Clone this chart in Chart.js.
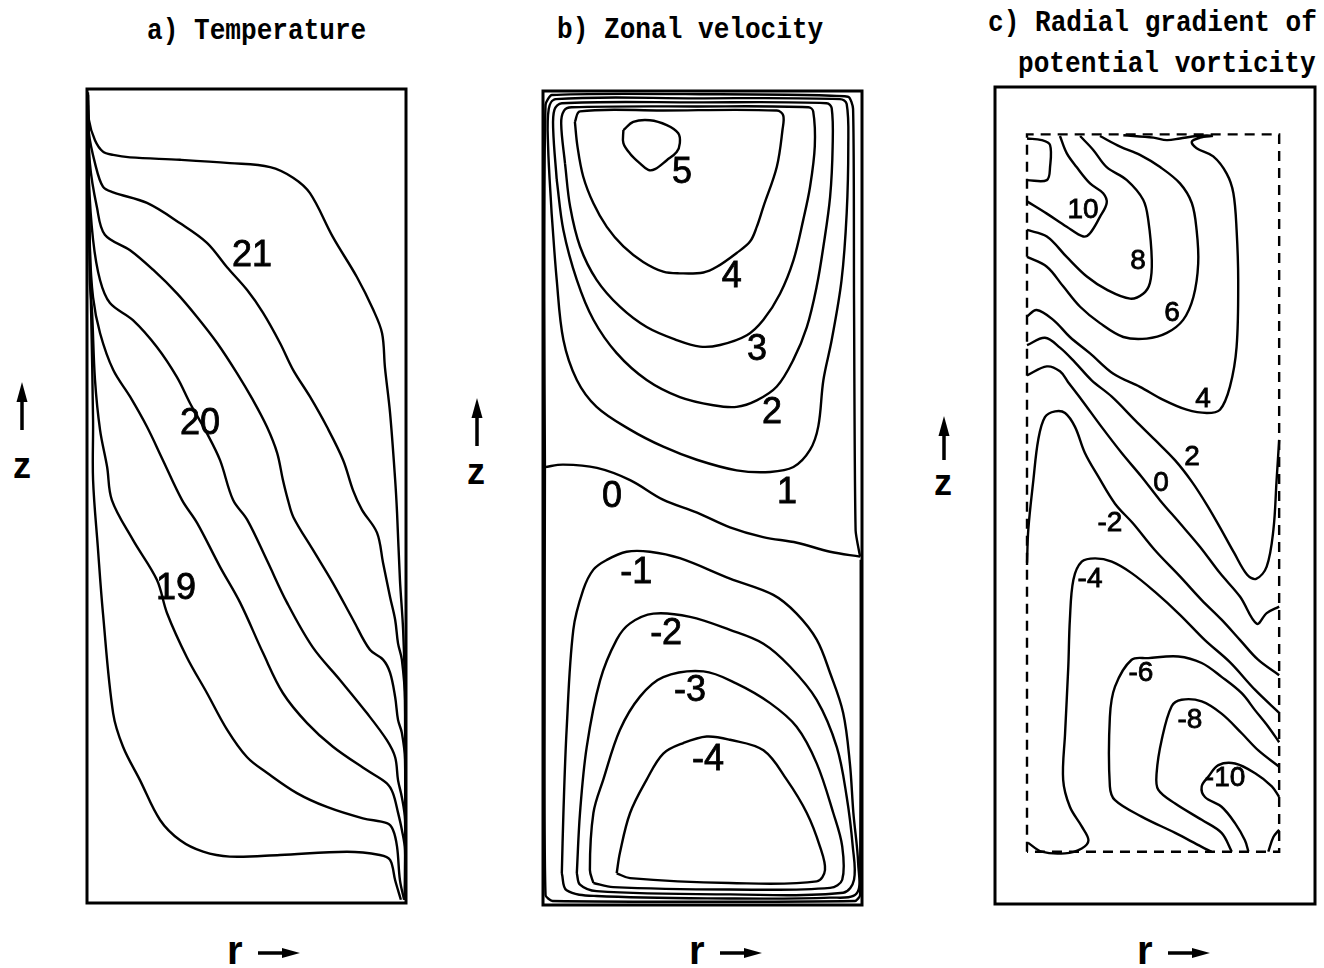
<!DOCTYPE html>
<html>
<head>
<meta charset="utf-8">
<script src="https://cdn.jsdelivr.net/npm/chart.js@4.4.0/dist/chart.umd.min.js"></script>
<style>
  html, body { margin: 0; padding: 0; background: #fff; }
  body { width: 1324px; height: 968px; position: relative; overflow: hidden; }
  canvas { position: absolute; }
  .ttl { position: absolute; font: bold 30px "Liberation Mono", "DejaVu Sans Mono", monospace; line-height: 30px; white-space: pre; transform: scaleX(0.87); transform-origin: 0 0; color: #000; }
  .axl { position: absolute; font: bold 36px "Liberation Sans", Arial, sans-serif; line-height: 36px; color: #000; }
  svg { position: absolute; overflow: visible; }
</style>
</head>
<body>
<div class="ttl" style="left:147px;top:16px">a) Temperature</div>
<div class="ttl" style="left:557px;top:15px">b) Zonal velocity</div>
<div class="ttl" style="left:988px;top:8px">c) Radial gradient of</div>
<div class="ttl" style="left:1018px;top:49px">potential vorticity</div>

<canvas id="tempChart" width="339" height="834" style="left:77px;top:79px"></canvas>
<canvas id="zonalChart" width="339" height="834" style="left:533px;top:81px"></canvas>
<canvas id="pvChart" width="340" height="837" style="left:985px;top:77px"></canvas>

<!-- axis captions: z up, r to the right -->
<svg style="left:14px;top:382px" width="16" height="50"><path d="M8 48 V16" stroke="#000" stroke-width="3.5"/><path d="M8 0 L2.5 20 L13.5 20 Z"/></svg>
<div class="axl" style="left:13px;top:448px">z</div>
<svg style="left:469px;top:398px" width="16" height="50"><path d="M8 48 V16" stroke="#000" stroke-width="3.5"/><path d="M8 0 L2.5 20 L13.5 20 Z"/></svg>
<div class="axl" style="left:467px;top:454px">z</div>
<svg style="left:936px;top:416px" width="16" height="46"><path d="M8 44 V16" stroke="#000" stroke-width="3.5"/><path d="M8 0 L2.5 20 L13.5 20 Z"/></svg>
<div class="axl" style="left:934px;top:465px">z</div>

<div class="axl" style="left:227px;top:932px;font-size:40px">r</div>
<svg style="left:256px;top:945px" width="46" height="16"><path d="M2 8 H30" stroke="#000" stroke-width="3.5"/><path d="M44 8 L26 3 L26 13 Z"/></svg>
<div class="axl" style="left:689px;top:932px;font-size:40px">r</div>
<svg style="left:718px;top:945px" width="46" height="16"><path d="M2 8 H30" stroke="#000" stroke-width="3.5"/><path d="M44 8 L26 3 L26 13 Z"/></svg>
<div class="axl" style="left:1137px;top:932px;font-size:40px">r</div>
<svg style="left:1166px;top:945px" width="46" height="16"><path d="M2 8 H30" stroke="#000" stroke-width="3.5"/><path d="M44 8 L26 3 L26 13 Z"/></svg>

<script>
// contour lines are [r, z] pairs, both scaled 0..1 over the tank cross-section

// a) temperature isotherms, top to bottom
var temp1 = [[0.003,0.996],[0.006,0.962],[0.025,0.937],[0.050,0.923],[0.082,0.919],[0.135,0.916],[0.292,0.913],[0.448,0.909],[0.574,0.904],[0.646,0.891],[0.699,0.872],[0.771,0.818],[0.846,0.769],[0.897,0.729],[0.925,0.700],[0.934,0.658],[0.950,0.602],[0.966,0.520],[0.972,0.479],[0.981,0.397],[0.991,0.335],[0.997,0.249],[0.997,0.004]];
var temp2 = [[0.003,0.993],[0.006,0.946],[0.025,0.909],[0.050,0.880],[0.082,0.873],[0.188,0.860],[0.292,0.835],[0.376,0.811],[0.439,0.781],[0.502,0.753],[0.552,0.725],[0.605,0.688],[0.646,0.655],[0.699,0.622],[0.752,0.585],[0.803,0.544],[0.834,0.507],[0.862,0.483],[0.909,0.455],[0.928,0.418],[0.950,0.376],[0.966,0.348],[0.975,0.319],[0.987,0.299],[0.997,0.249],[0.997,0.004]];
var temp3 = [[0.003,0.986],[0.009,0.909],[0.031,0.855],[0.056,0.821],[0.135,0.802],[0.207,0.778],[0.282,0.749],[0.345,0.720],[0.408,0.688],[0.470,0.651],[0.520,0.618],[0.564,0.585],[0.596,0.553],[0.614,0.520],[0.630,0.495],[0.647,0.474],[0.708,0.434],[0.771,0.393],[0.834,0.348],[0.887,0.311],[0.928,0.299],[0.950,0.283],[0.966,0.253],[0.975,0.225],[0.987,0.209],[0.997,0.176],[0.997,0.004]];
var temp4 = [[0.003,0.980],[0.006,0.888],[0.019,0.815],[0.041,0.765],[0.072,0.737],[0.144,0.716],[0.219,0.683],[0.282,0.646],[0.323,0.614],[0.376,0.577],[0.417,0.544],[0.458,0.495],[0.502,0.471],[0.564,0.421],[0.627,0.369],[0.708,0.314],[0.793,0.274],[0.878,0.233],[0.940,0.200],[0.966,0.179],[0.975,0.151],[0.987,0.130],[0.997,0.102],[0.997,0.004]];
var temp5 = [[0.003,0.974],[0.009,0.806],[0.019,0.744],[0.041,0.700],[0.082,0.655],[0.135,0.622],[0.188,0.585],[0.238,0.544],[0.298,0.495],[0.345,0.467],[0.417,0.413],[0.480,0.369],[0.552,0.307],[0.614,0.258],[0.690,0.221],[0.771,0.192],[0.878,0.163],[0.940,0.147],[0.959,0.135],[0.975,0.111],[0.987,0.090],[0.997,0.065],[0.997,0.004]];
var temp6 = [[0.003,0.968],[0.009,0.765],[0.016,0.725],[0.025,0.643],[0.041,0.581],[0.063,0.536],[0.078,0.495],[0.144,0.446],[0.219,0.397],[0.251,0.356],[0.313,0.302],[0.376,0.258],[0.439,0.213],[0.502,0.179],[0.564,0.160],[0.658,0.135],[0.752,0.118],[0.865,0.104],[0.940,0.098],[0.959,0.090],[0.972,0.069],[0.981,0.028],[0.994,0.004]];
var temp7 = [[0.003,0.993],[0.006,0.864],[0.013,0.725],[0.019,0.593],[0.019,0.520],[0.034,0.437],[0.050,0.356],[0.082,0.233],[0.113,0.192],[0.166,0.151],[0.229,0.102],[0.292,0.077],[0.364,0.063],[0.448,0.057],[0.605,0.059],[0.815,0.063],[0.918,0.059],[0.950,0.053],[0.966,0.028],[0.984,0.004]];
var tempLabelText = ["21", "20", "19"];
var tempLabelR = [0.517, 0.354, 0.279];
var tempLabelZ = [0.795, 0.588, 0.386];

// b) zonal velocity, closed cells above and below the zero line
var zonal5 = [[0.252,0.952],[0.283,0.962],[0.335,0.964],[0.388,0.958],[0.424,0.948],[0.429,0.936],[0.419,0.925],[0.388,0.915],[0.351,0.904],[0.330,0.903],[0.304,0.911],[0.273,0.923],[0.252,0.936],[0.252,0.952]];
var zonal4 = [[0.100,0.962],[0.116,0.975],[0.377,0.976],[0.733,0.976],[0.753,0.970],[0.751,0.953],[0.733,0.907],[0.691,0.858],[0.670,0.833],[0.649,0.815],[0.607,0.801],[0.545,0.784],[0.503,0.777],[0.429,0.776],[0.377,0.778],[0.314,0.790],[0.252,0.809],[0.200,0.833],[0.158,0.862],[0.126,0.895],[0.108,0.932],[0.100,0.962]];
var zonal3 = [[0.069,0.911],[0.057,0.960],[0.066,0.976],[0.090,0.980],[0.482,0.981],[0.832,0.980],[0.847,0.975],[0.852,0.932],[0.837,0.882],[0.816,0.842],[0.785,0.792],[0.743,0.751],[0.691,0.719],[0.639,0.700],[0.555,0.688],[0.492,0.686],[0.419,0.694],[0.325,0.710],[0.241,0.735],[0.168,0.768],[0.116,0.809],[0.085,0.858],[0.069,0.911]];
var zonal2 = [[0.043,0.891],[0.032,0.952],[0.036,0.977],[0.059,0.985],[0.482,0.986],[0.889,0.985],[0.905,0.979],[0.908,0.932],[0.900,0.870],[0.879,0.809],[0.858,0.760],[0.827,0.710],[0.785,0.670],[0.733,0.637],[0.670,0.620],[0.607,0.612],[0.534,0.614],[0.429,0.624],[0.325,0.645],[0.231,0.678],[0.158,0.719],[0.106,0.768],[0.064,0.829],[0.043,0.891]];
var zonal1 = [[0.027,0.850],[0.016,0.932],[0.018,0.978],[0.040,0.990],[0.482,0.991],[0.931,0.990],[0.952,0.984],[0.957,0.932],[0.952,0.850],[0.936,0.768],[0.905,0.694],[0.879,0.645],[0.863,0.588],[0.837,0.559],[0.785,0.538],[0.712,0.532],[0.607,0.534],[0.482,0.547],[0.377,0.563],[0.273,0.584],[0.168,0.612],[0.106,0.645],[0.064,0.694],[0.043,0.768],[0.027,0.850]];
var zonalZero = [[0.006,0.538],[0.063,0.541],[0.169,0.537],[0.273,0.522],[0.376,0.498],[0.483,0.482],[0.586,0.464],[0.690,0.452],[0.796,0.445],[0.900,0.434],[0.994,0.428]];
var zonalZeroTop = [[0.006,0.538],[0.004,0.743],[0.008,0.983],[0.028,0.995],[0.492,0.996],[0.956,0.993],[0.972,0.978],[0.975,0.743],[0.980,0.460],[0.994,0.428]];
var zonalZeroBottom = [[0.006,0.538],[0.005,0.252],[0.008,0.012],[0.030,0.005],[0.978,0.005],[0.994,0.012],[0.996,0.424]];
var zonalM1 = [[0.059,0.039],[0.064,0.113],[0.074,0.215],[0.095,0.338],[0.126,0.387],[0.158,0.412],[0.200,0.424],[0.262,0.434],[0.335,0.434],[0.429,0.426],[0.586,0.401],[0.722,0.381],[0.795,0.358],[0.858,0.326],[0.900,0.285],[0.941,0.236],[0.962,0.174],[0.973,0.113],[0.988,0.051],[0.983,0.014],[0.900,0.009],[0.586,0.008],[0.168,0.011],[0.074,0.018],[0.059,0.039]];
var zonalM2 = [[0.106,0.039],[0.116,0.113],[0.137,0.194],[0.179,0.276],[0.231,0.326],[0.273,0.346],[0.346,0.358],[0.461,0.354],[0.586,0.338],[0.691,0.321],[0.774,0.293],[0.858,0.252],[0.921,0.194],[0.952,0.133],[0.971,0.072],[0.975,0.031],[0.941,0.015],[0.586,0.013],[0.168,0.017],[0.116,0.025],[0.106,0.039]];
var zonalM3 = [[0.158,0.027],[0.147,0.043],[0.158,0.113],[0.189,0.154],[0.241,0.215],[0.304,0.256],[0.377,0.280],[0.503,0.287],[0.607,0.272],[0.712,0.248],[0.795,0.219],[0.858,0.174],[0.910,0.113],[0.938,0.072],[0.938,0.031],[0.900,0.021],[0.586,0.019],[0.220,0.022],[0.158,0.027]];
var zonalM4 = [[0.231,0.039],[0.241,0.064],[0.273,0.113],[0.325,0.154],[0.377,0.186],[0.440,0.199],[0.513,0.207],[0.586,0.203],[0.691,0.190],[0.764,0.154],[0.827,0.113],[0.868,0.072],[0.884,0.043],[0.858,0.029],[0.586,0.027],[0.273,0.033],[0.231,0.039]];
var zonalLabelText = ["5", "4", "3", "2", "1", "0", "-1", "-2", "-3", "-4"];
var zonalLabelR = [0.436, 0.592, 0.671, 0.718, 0.765, 0.216, 0.292, 0.386, 0.461, 0.517];
var zonalLabelZ = [0.899, 0.772, 0.682, 0.604, 0.506, 0.501, 0.408, 0.333, 0.263, 0.178];

// c) radial gradient of potential vorticity, inside the interior region
var pvRegion = [[0.100,0.064],[0.100,0.942],[0.888,0.942],[0.888,0.064],[0.100,0.064]];
var pv12 = [[0.100,0.937],[0.146,0.935],[0.172,0.929],[0.172,0.902],[0.162,0.886],[0.100,0.886]];
var pv10 = [[0.203,0.940],[0.224,0.919],[0.255,0.902],[0.297,0.882],[0.338,0.870],[0.349,0.858],[0.328,0.841],[0.297,0.821],[0.276,0.817],[0.224,0.829],[0.162,0.845],[0.100,0.860]];
var pv8 = [[0.266,0.940],[0.307,0.923],[0.349,0.902],[0.412,0.886],[0.463,0.862],[0.479,0.837],[0.490,0.788],[0.484,0.760],[0.463,0.747],[0.422,0.741],[0.349,0.752],[0.287,0.768],[0.224,0.792],[0.162,0.817],[0.100,0.825]];
var pv6 = [[0.328,0.940],[0.391,0.927],[0.453,0.917],[0.516,0.902],[0.578,0.882],[0.615,0.858],[0.630,0.825],[0.635,0.784],[0.620,0.743],[0.588,0.715],[0.537,0.699],[0.474,0.692],[0.401,0.694],[0.328,0.711],[0.266,0.731],[0.213,0.756],[0.162,0.780],[0.100,0.792]];
var pv4 = [[0.401,0.941],[0.495,0.938],[0.537,0.935],[0.578,0.937],[0.630,0.940],[0.678,0.940],[0.641,0.938],[0.615,0.933],[0.630,0.925],[0.682,0.915],[0.724,0.894],[0.745,0.870],[0.755,0.825],[0.760,0.764],[0.755,0.682],[0.734,0.633],[0.703,0.605],[0.662,0.601],[0.599,0.605],[0.526,0.617],[0.453,0.633],[0.370,0.649],[0.297,0.674],[0.234,0.694],[0.182,0.715],[0.130,0.727],[0.100,0.719]];
var pv2 = [[0.100,0.684],[0.156,0.693],[0.203,0.681],[0.250,0.663],[0.302,0.641],[0.365,0.621],[0.438,0.592],[0.500,0.568],[0.563,0.543],[0.615,0.517],[0.663,0.488],[0.703,0.461],[0.747,0.430],[0.788,0.403],[0.816,0.398],[0.849,0.413],[0.870,0.458],[0.880,0.519],[0.888,0.568]];
var pv0 = [[0.100,0.647],[0.162,0.658],[0.203,0.652],[0.228,0.639],[0.271,0.617],[0.333,0.584],[0.396,0.552],[0.458,0.523],[0.516,0.494],[0.578,0.466],[0.641,0.437],[0.703,0.405],[0.766,0.376],[0.818,0.343],[0.849,0.356],[0.888,0.364]];
var pvM2 = [[0.100,0.415],[0.104,0.458],[0.120,0.519],[0.135,0.568],[0.156,0.596],[0.188,0.603],[0.219,0.601],[0.250,0.584],[0.281,0.552],[0.323,0.523],[0.375,0.490],[0.431,0.466],[0.500,0.433],[0.578,0.401],[0.646,0.372],[0.708,0.348],[0.766,0.323],[0.822,0.299],[0.888,0.280]];
var pvM4 = [[0.103,0.075],[0.146,0.064],[0.219,0.062],[0.271,0.068],[0.292,0.078],[0.271,0.095],[0.234,0.119],[0.213,0.152],[0.219,0.209],[0.229,0.290],[0.234,0.348],[0.245,0.397],[0.271,0.419],[0.313,0.423],[0.365,0.419],[0.427,0.405],[0.500,0.382],[0.578,0.354],[0.656,0.323],[0.734,0.296],[0.813,0.262],[0.888,0.234]];
var pvM6 = [[0.677,0.064],[0.646,0.070],[0.563,0.087],[0.458,0.107],[0.375,0.127],[0.359,0.144],[0.359,0.229],[0.375,0.266],[0.427,0.299],[0.479,0.301],[0.573,0.303],[0.646,0.295],[0.708,0.278],[0.771,0.258],[0.813,0.237],[0.854,0.217],[0.888,0.198]];
var pvM8 = [[0.740,0.064],[0.708,0.087],[0.646,0.103],[0.563,0.123],[0.510,0.140],[0.505,0.160],[0.521,0.201],[0.552,0.242],[0.583,0.250],[0.646,0.248],[0.708,0.233],[0.771,0.209],[0.823,0.188],[0.888,0.168]];
var pvM10 = [[0.792,0.064],[0.781,0.078],[0.750,0.099],[0.708,0.119],[0.656,0.131],[0.646,0.144],[0.667,0.156],[0.698,0.170],[0.750,0.172],[0.813,0.160],[0.865,0.144],[0.888,0.131]];
var pvCorner = [[0.854,0.064],[0.870,0.082],[0.888,0.091]];
var pvLabelText = ["10", "8", "6", "4", "2", "0", "-2", "-4", "-6", "-8", "-10"];
var pvLabelR = [0.275, 0.447, 0.553, 0.650, 0.616, 0.519, 0.359, 0.297, 0.456, 0.609, 0.719];
var pvLabelZ = [0.849, 0.787, 0.723, 0.618, 0.547, 0.515, 0.466, 0.397, 0.283, 0.225, 0.154];

function lineSet(pts, extra) {
  var ds = {
    data: pts.map(function (p) { return { x: p[0], y: p[1] }; }),
    showLine: true,
    pointRadius: 0,
    borderColor: "#000",
    borderWidth: 2.4,
    tension: 0.35,
  };
  return Object.assign(ds, extra || {});
}

function contourChart(id, datasets, labelText, labelR, labelZ, labelFont) {
  var ctx = document.getElementById(id).getContext("2d");
  return new Chart(ctx, {
    type: "scatter",
    data: { datasets: datasets },
    options: {
      responsive: false,
      animation: false,
      events: [],
      layout: { padding: 10 },
      scales: {
        x: { type: "linear", min: 0, max: 1, display: false },
        y: { type: "linear", min: 0, max: 1, display: false },
      },
      plugins: { legend: { display: false }, tooltip: { enabled: false } },
    },
    plugins: [
      {
        id: "frameAndLabels",
        beforeDatasetsDraw: function (chart) {
          var a = chart.chartArea, c = chart.ctx;
          c.save();
          c.lineWidth = 3;
          c.strokeStyle = "#000";
          c.strokeRect(a.left, a.top, a.right - a.left, a.bottom - a.top);
          c.restore();
        },
        afterDatasetsDraw: function (chart) {
          var c = chart.ctx, x = chart.scales.x, y = chart.scales.y;
          c.save();
          c.font = labelFont;
          c.fillStyle = "#000";
          c.strokeStyle = "#000";
          c.lineWidth = 0.8;
          c.textAlign = "center";
          c.textBaseline = "middle";
          labelText.forEach(function (t, i) {
            var px = x.getPixelForValue(labelR[i]), py = y.getPixelForValue(labelZ[i]);
            c.fillText(t, px, py);
            c.strokeText(t, px, py);
          });
          c.restore();
        },
      },
    ],
  });
}

contourChart(
  "tempChart",
  [temp1, temp2, temp3, temp4, temp5, temp6, temp7].map(function (l) { return lineSet(l); }),
  tempLabelText, tempLabelR, tempLabelZ,
  '36px "Liberation Sans", Arial, sans-serif'
);

contourChart(
  "zonalChart",
  [zonal5, zonal4, zonal3, zonal2, zonal1, zonalZero, zonalM1, zonalM2, zonalM3, zonalM4]
    .map(function (l) { return lineSet(l); })
    .concat([lineSet(zonalZeroTop, { tension: 0.2 }), lineSet(zonalZeroBottom, { tension: 0.2 })]),
  zonalLabelText, zonalLabelR, zonalLabelZ,
  '36px "Liberation Sans", Arial, sans-serif'
);

contourChart(
  "pvChart",
  [lineSet(pvRegion, { tension: 0, borderDash: [10, 7] })].concat(
    [pv12, pv10, pv8, pv6, pv4, pv2, pv0, pvM2, pvM4, pvM6, pvM8, pvM10, pvCorner].map(function (l) { return lineSet(l); })
  ),
  pvLabelText, pvLabelR, pvLabelZ,
  '28px "Liberation Sans", Arial, sans-serif'
);
</script>
</body>
</html>
